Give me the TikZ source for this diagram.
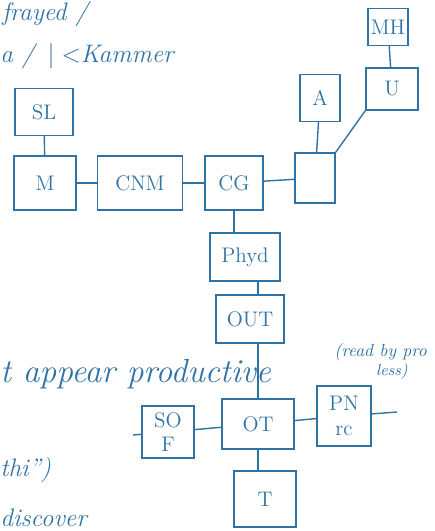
\documentclass[tikz,border=0pt]{standalone}
\usepackage{xcolor}
\definecolor{ink}{HTML}{2F73A6}

\begin{document}
\begin{tikzpicture}[x=0.02cm, y=-0.02cm,
    box/.style={draw=ink, thick, text=ink, align=center, inner sep=1pt, font=\large},
    wire/.style={draw=ink, thick},
    note/.style={text=ink, inner sep=0pt, font=\Large\itshape}]
    \useasboundingbox (0,0) rectangle (434,531);

    % Boxes: name/x/y/width/height/label
    \foreach \name/\x/\y/\w/\h/\lab in {
        SL/44/112/58/47/SL, M/45/183/62/54/M, CNM/140/183/85/54/CNM,
        CG/234/183/58/54/CG, junc/315/178/40/50/{}, A/320/98/40/47/A,
        U/392/89/52/42/U, MH/388/27/40/37/MH, Phyd/245/257/70/48/Phyd,
        OUT/250/319/68/48/OUT, OT/258/424/72/50/OT, SOF/168/432/52/52/{SO\\F},
        PNrc/344/416/54/60/{PN\\rc}, T/265/499/62/56/T} {
        \node[box, minimum width=\w*0.02cm, minimum height=\h*0.02cm] (\name) at (\x,\y) {\lab};
    }

    % Free ends
    \coordinate (sofin) at (133,435);
    \coordinate (pnout) at (397,412);

    % Connections
    \draw[wire] (SL) -- (M);
    \draw[wire] (M) -- (CNM);
    \draw[wire] (CNM) -- (CG);
    \draw[wire] (CG) -- (junc);
    \draw[wire] (A) -- (junc);
    \draw[wire] (MH) -- (U);
    \draw[wire] (U.south west) -- (junc.north east);
    \draw[wire] (CG.south) -- (CG.south |- Phyd.north);
    \draw[wire] (OT.north |- Phyd.south) -- (OT.north |- OUT.north);
    \draw[wire] (OT.north |- OUT.south) -- (OT.north);
    \draw[wire] (SOF) -- (OT);
    \draw[wire] (OT) -- (PNrc);
    \draw[wire] (OT.south) -- (OT.south |- T.north);
    \draw[wire] (sofin) -- (SOF);
    \draw[wire] (PNrc) -- (pnout);

    % Notes
    \node[note, anchor=west] (frayed) at (2,14) {frayed /};
    \node[note, anchor=west] (kammer) at (0,56) {a / \,$\vert<$Kammer};
    \node[note, anchor=west, font=\fontsize{19}{22}\selectfont\itshape] (prod) at (0,374) {t appear productive};
    \node[note, anchor=west, font=\normalsize\itshape] (readby) at (334,352) {(read by pro};
    \node[note, font=\small\itshape] (less) at (392,372) {less)};
    \node[note, anchor=west] (thi) at (0,470) {thi'')};
    \node[note, anchor=west] (disc) at (0,518) {discover};
\end{tikzpicture}
\end{document}
